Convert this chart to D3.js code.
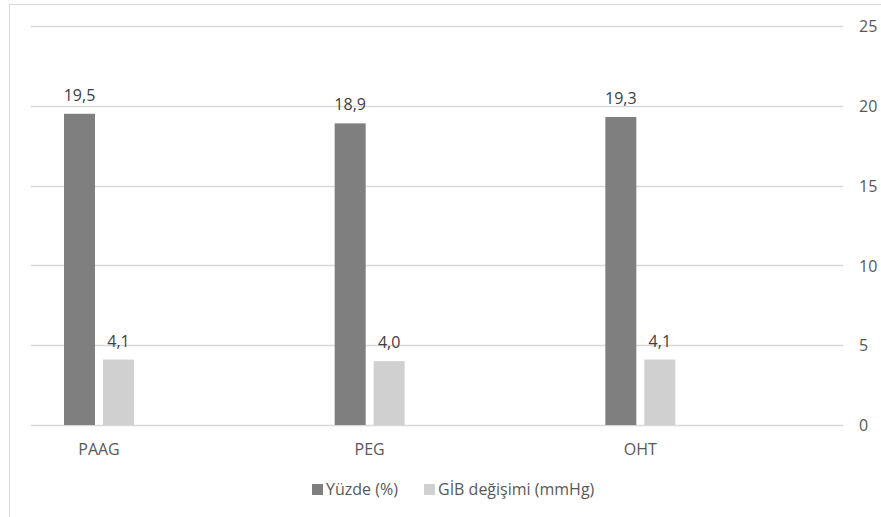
<!DOCTYPE html>
<html>
<head>
<meta charset="utf-8">
<script src="https://cdn.jsdelivr.net/npm/d3@7"></script>
<style>
  html, body { margin: 0; padding: 0; background: #fff; }
  svg { display: block; font-family: "Open Sans", sans-serif; }
</style>
</head>
<body>
<svg id="chart" width="881" height="517"></svg>
<script>
// Categories, series and values
const categories = ["PAAG", "PEG", "OHT"];
const seriesNames = ["Yüzde (%)", "GİB değişimi (mmHg)"];
const yuzde = [19.5, 18.9, 19.3];
const gibDegisimi = [4.1, 4.0, 4.1];
const yTicks = [0, 5, 10, 15, 20, 25];

const seriesValues = [yuzde, gibDegisimi];
const colors = ["#7f7f7f", "#d0d0d0"];
const textColor = "#595959";
const gridColor = "#d9d9d9";

const svg = d3.select("#chart");

// Outer frame of the chart area
svg.append("rect")
  .attr("x", 9.5).attr("y", 4.5)
  .attr("width", 900).attr("height", 600)
  .attr("fill", "none")
  .attr("stroke", gridColor)
  .attr("stroke-width", 1);

const plotLeft = 31, plotRight = 843;
const y = d3.scaleLinear().domain([0, 25]).range([425, 26]);
const x = d3.scaleBand().domain(categories).range([plotLeft, plotRight]).paddingInner(0).paddingOuter(0);
const xInner = d3.scaleBand().domain(d3.range(seriesNames.length)).range([33, 103]).paddingInner(8 / 39).paddingOuter(0);

// Gridlines
svg.append("g")
  .selectAll("line")
  .data(yTicks)
  .join("line")
  .attr("x1", plotLeft).attr("x2", plotRight)
  .attr("y1", d => Math.round(y(d)) + 0.5)
  .attr("y2", d => Math.round(y(d)) + 0.5)
  .attr("stroke", gridColor)
  .attr("stroke-width", 1.3);

// Right-side value axis labels
const yAxis = d3.axisRight(y).tickValues(yTicks).tickSize(0).tickPadding(0).tickFormat(d3.format("d"));
const yAxisG = svg.append("g")
  .attr("transform", `translate(859,0)`)
  .call(yAxis);
yAxisG.select(".domain").remove();
yAxisG.selectAll("text")
  .attr("fill", textColor)
  .attr("font-size", 16)
  .attr("font-family", "'Open Sans', sans-serif")
  .attr("text-anchor", "start")
  .attr("dy", "0.35em");

// Bars and data labels
const groups = svg.append("g")
  .selectAll("g")
  .data(categories)
  .join("g")
  .attr("transform", d => `translate(${x(d)},0)`);

groups.each(function(cat, ci) {
  const g = d3.select(this);
  seriesValues.forEach((vals, si) => {
    const v = vals[ci];
    g.append("rect")
      .attr("x", xInner(si))
      .attr("y", y(v))
      .attr("width", xInner.bandwidth())
      .attr("height", y(0) - y(v))
      .attr("fill", colors[si]);
    g.append("text")
      .attr("x", xInner(si) + xInner.bandwidth() / 2)
      .attr("y", y(v) - 13)
      .attr("text-anchor", "middle")
      .attr("font-size", 16)
      .attr("fill", "#404040")
      .text(d3.format(".1f")(v).replace(".", ","));
  });
  // Category label
  g.append("text")
    .attr("x", (xInner.range()[0] + xInner.range()[1]) / 2)
    .attr("y", 455)
    .attr("text-anchor", "middle")
    .attr("font-size", 16)
    .attr("fill", textColor)
    .text(cat);
});

// Legend
const legendX = [312, 424];
const legend = svg.append("g")
  .selectAll("g")
  .data(seriesNames)
  .join("g")
  .attr("transform", (d, i) => `translate(${legendX[i]},484)`);
legend.append("rect")
  .attr("width", 11).attr("height", 11)
  .attr("fill", (d, i) => colors[i]);
legend.append("text")
  .attr("x", 14).attr("y", 11)
  .attr("font-size", 16)
  .attr("fill", textColor)
  .text(d => d);
</script>
</body>
</html>
